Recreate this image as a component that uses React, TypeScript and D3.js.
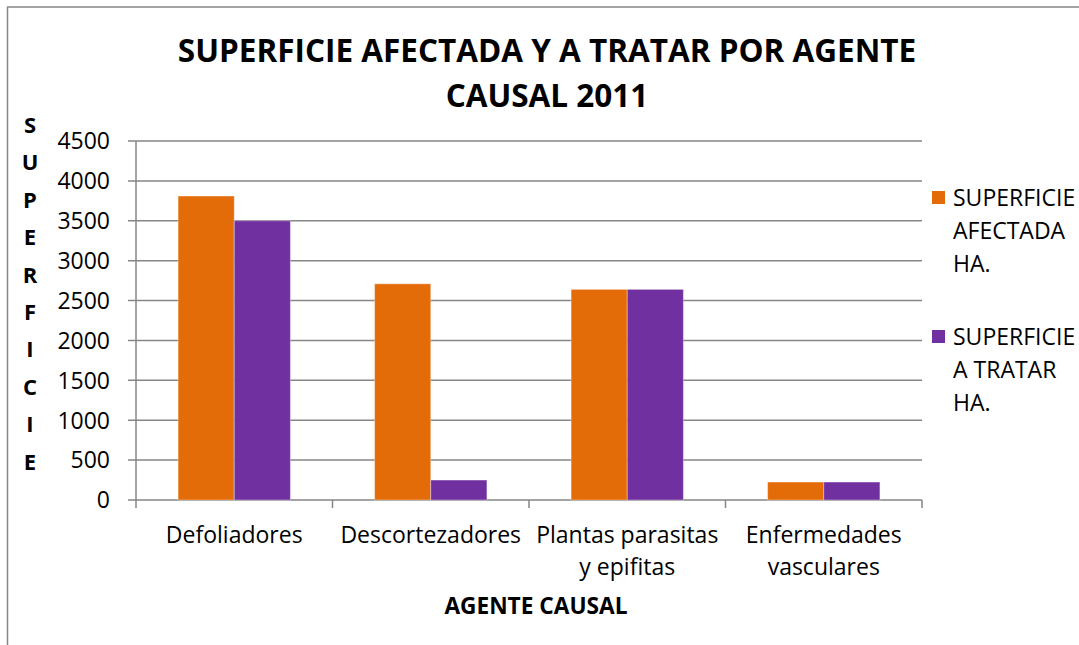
import React from "react";
import * as d3 from "d3";

const categories: string[][] = [
  ["Defoliadores"],
  ["Descortezadores"],
  ["Plantas parasitas", "y epifitas"],
  ["Enfermedades", "vasculares"],
];
const catKeys = ["Defoliadores", "Descortezadores", "Plantas parasitas y epifitas", "Enfermedades vasculares"];
const afectada = [3810, 2710, 2640, 225];
const aTratar = [3500, 250, 2640, 225];
const seriesNames = [["SUPERFICIE", "AFECTADA", "HA."], ["SUPERFICIE", "A TRATAR", "HA."]];
const seriesColors = ["#E36C09", "#7030A0"];
const yTicks = [0, 500, 1000, 1500, 2000, 2500, 3000, 3500, 4000, 4500];
const titleLines = ["SUPERFICIE AFECTADA Y A TRATAR POR AGENTE", "CAUSAL 2011"];
const yTitle = "SUPERFICIE";
const xTitle = "AGENTE CAUSAL";

const FONT = "'Open Sans', sans-serif";

export default function App() {
  const W = 1079, H = 645;
  const left = 136, right = 922, top = 141, bottom = 500;
  const x = d3.scaleBand<string>().domain(catKeys).range([left, right]).padding(0);
  const inner = d3.scaleBand<number>().domain([0, 1]).range([0, x.bandwidth()]).paddingInner(0).paddingOuter(0.75);
  const y = d3.scaleLinear().domain([0, 4500]).range([bottom, top]);
  const series = [afectada, aTratar];
  const grid = "#868686";

  return (
    <svg width={W} height={H} style={{ position: "absolute", left: 0, top: 0, background: "#fff" }} fontFamily={FONT}>
      <rect x={0} y={0} width={W} height={H} fill="#fff" />
      <line x1={7.5} y1={7} x2={7.5} y2={H} stroke={grid} strokeWidth={1.5} />
      <line x1={7} y1={7} x2={W} y2={7} stroke={grid} strokeWidth={1.5} />
      {titleLines.map((t, i) => (
        <text key={i} x={547} y={51 + i * 45} dy="0.36em" textAnchor="middle" fontWeight="bold" fontSize={31.5} fill="#000">{t}</text>
      ))}
      {yTicks.map((t) => (
        <g key={t}>
          <line x1={left - 8} x2={right} y1={y(t)} y2={y(t)} stroke={grid} strokeWidth={1.5} />
          <text x={110} y={y(t)} dy="0.36em" textAnchor="end" fontSize={23} fill="#000">{t}</text>
        </g>
      ))}
      <line x1={left} x2={left} y1={top} y2={bottom + 8} stroke={grid} strokeWidth={1.5} />
      {catKeys.map((c) => (
        <line key={c} x1={(x(c) as number) + x.bandwidth()} x2={(x(c) as number) + x.bandwidth()} y1={bottom} y2={bottom + 8} stroke={grid} strokeWidth={1.5} />
      ))}
      {series.map((vals, si) =>
        vals.map((v, ci) => (
          <rect key={si + "-" + ci}
            x={(x(catKeys[ci]) as number) + (inner(si) as number)}
            y={y(v)} width={inner.bandwidth()} height={y(0) - y(v)}
            fill={seriesColors[si]} stroke="#ffffff" strokeOpacity={0.35} strokeWidth={1} />
        ))
      )}
      {categories.map((lines, ci) => (
        <text key={ci} x={(x(catKeys[ci]) as number) + x.bandwidth() / 2} y={535} textAnchor="middle" fontSize={23} fill="#000">
          {lines.map((l, li) => (
            <tspan key={li} x={(x(catKeys[ci]) as number) + x.bandwidth() / 2} dy={li === 0 ? "0.36em" : 32}>{l}</tspan>
          ))}
        </text>
      ))}
      <text x={536} y={606} dy="0.36em" textAnchor="middle" fontWeight="bold" fontSize={22.7} fill="#000">{xTitle}</text>
      {yTitle.split("").map((ch, i) => (
        <text key={i} x={30} y={125 + i * 37.4} dy="0.36em" textAnchor="middle" fontWeight="bold" fontSize={22} fill="#000">{ch}</text>
      ))}
      {seriesNames.map((lines, si) => (
        <g key={si}>
          <rect x={932} y={191 + si * 139} width={13} height={13} fill={seriesColors[si]} />
          {lines.map((l, li) => (
            <text key={li} x={953} y={197.5 + si * 139 + li * 33} dy="0.36em" fontSize={23} fill="#000">{l}</text>
          ))}
        </g>
      ))}
    </svg>
  );
}
